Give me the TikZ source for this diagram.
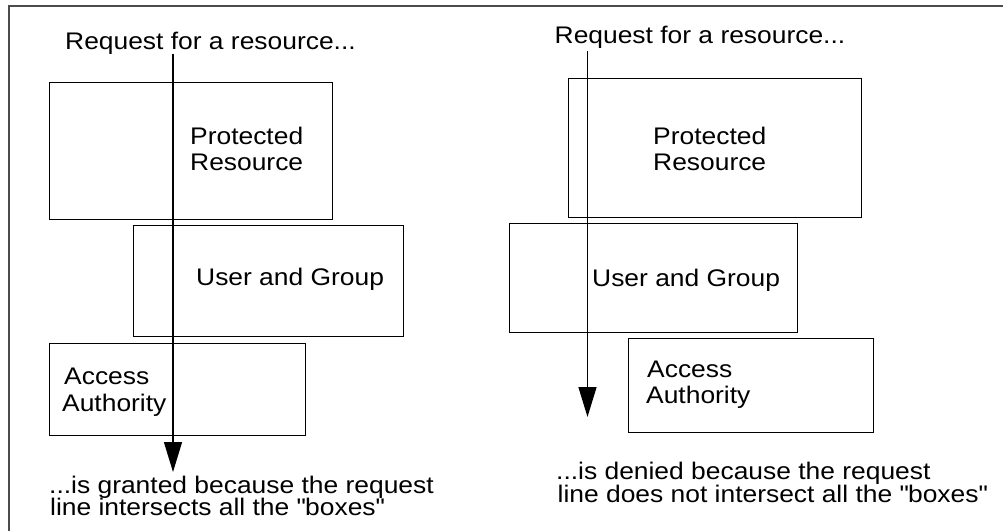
\documentclass[tikz,border=0pt]{standalone}
\usepackage{fontspec}
\setmainfont[FakeStretch=1.1]{Liberation Sans}
\usetikzlibrary{arrows.meta}
\begin{document}
\begin{tikzpicture}[x=1pt,y=-1pt,
  box/.style={draw=black,line width=1.3pt,inner sep=0pt,anchor=north west},
  lbl/.style={anchor=base west,inner sep=0pt,font=\fontsize{24}{26}\selectfont},
  req/.style={line width=1.3pt,-{Triangle[width=18pt,length=30pt]}},
  framestyle/.style={draw=gray!60!black,line width=1.3pt}]
\useasboundingbox (0,0) rectangle (1003,531);
\draw[framestyle] (9,531) -- (9,6) -- (1003,6);

% ---- left panel ----
\node[box,minimum width=283pt,minimum height=137pt] (prL) at (49,82) {};
\node[box,minimum width=270pt,minimum height=111pt] (ugL) at (133,225) {};
\node[box,minimum width=256pt,minimum height=92pt] (aaL) at (49,343) {};

\node[lbl] (reqL) at (65,49) {Request for a resource...};
\node[lbl] (prL1) at (190,144) {Protected};
\node[lbl] (prL2) at (190,170) {Resource};
\node[lbl] (ugLt) at (196,285) {User and Group};
\node[lbl] (aaL1) at (64,384) {Access};
\node[lbl] (aaL2) at (62,411.5) {Authority};
\node[lbl] (resL1) at (49,493) {...is granted because the request};
\node[lbl] (resL2) at (50,515) {line intersects all the \textquotedbl boxes\textquotedbl};

\coordinate (sL) at (173,54);
\coordinate (eL) at (173,472);
\draw[req] (sL) -- (eL);

% ---- right panel ----
\node[box,minimum width=293pt,minimum height=139pt] (prR) at (568,78) {};
\node[box,minimum width=288pt,minimum height=109pt] (ugR) at (509,223) {};
\node[box,minimum width=245pt,minimum height=94.5pt] (aaR) at (628,337.5) {};

\node[lbl] (reqR) at (554.5,43) {Request for a resource...};
\node[lbl] (prR1) at (653,144) {Protected};
\node[lbl] (prR2) at (653,170) {Resource};
\node[lbl] (ugRt) at (592,286) {User and Group};
\node[lbl] (aaR1) at (647,377) {Access};
\node[lbl] (aaR2) at (646,403) {Authority};
\node[lbl] (resR1) at (556,479) {...is denied because the request};
\node[lbl] (resR2) at (557.5,502) {line does not intersect all the \textquotedbl boxes\textquotedbl};

\coordinate (sR) at (587.5,51);
\coordinate (eR) at (587.5,417);
\draw[req] (sR) -- (eR);
\end{tikzpicture}
\end{document}
